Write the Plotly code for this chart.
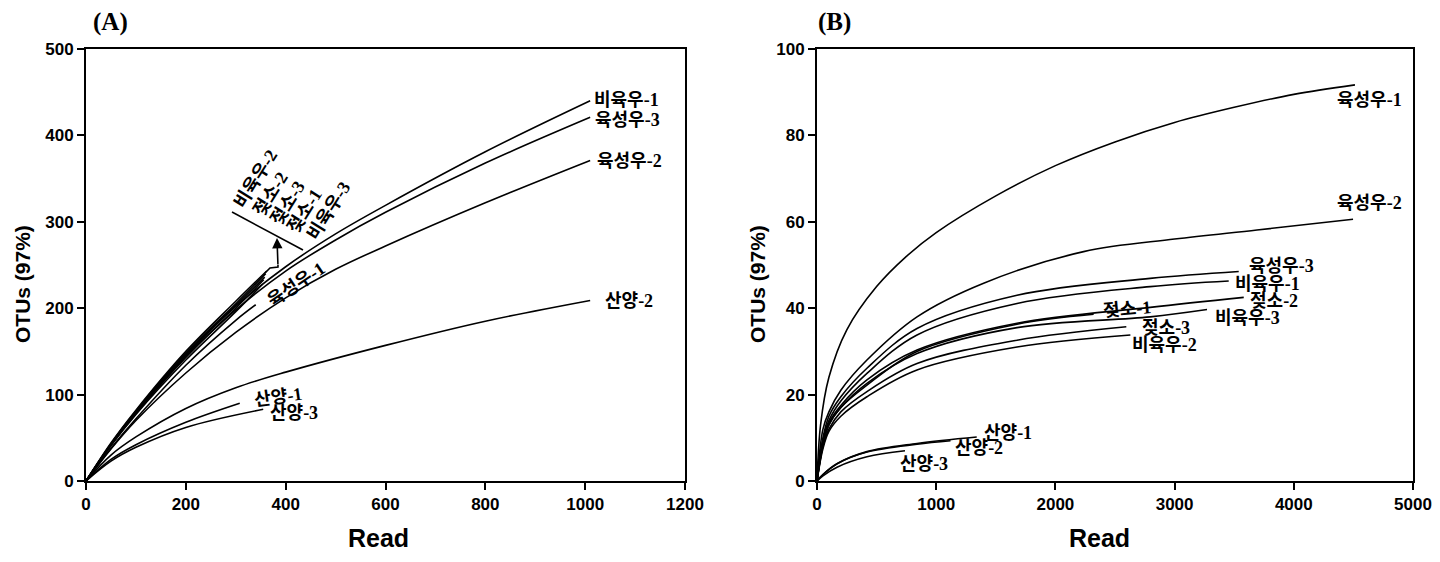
import plotly.graph_objects as go

# ---------------- Panel A data (Read vs OTUs) ----------------
A_LONG_X = [0, 50, 100, 200, 300, 400, 500, 600, 800, 1010]
A_BI1_Y = [0, 42, 80, 146, 202, 248, 286, 319, 381, 440]      # 비육우-1
A_YS3_Y = [0, 41, 78, 143, 198, 243, 279, 311, 368, 421]      # 육성우-3
A_YS2_Y = [0, 37, 70, 125, 172, 212, 245, 272, 322, 371]      # 육성우-2
A_YS1_X = [0, 50, 100, 200, 300, 340]
A_YS1_Y = [0, 38, 72, 134, 186, 204]                          # 육성우-1
A_BI2_X = [0, 50, 100, 200, 300, 362]
A_BI2_Y = [0, 44, 82, 150, 208, 243]                          # 비육우-2
A_JS2_X = [0, 50, 100, 200, 300, 360]
A_JS2_Y = [0, 43, 81, 148, 205, 240]                          # 젖소-2
A_JS3_X = [0, 50, 100, 200, 300, 358]
A_JS3_Y = [0, 43, 80, 146, 203, 236]                          # 젖소-3
A_JS1_X = [0, 50, 100, 200, 300, 356]
A_JS1_Y = [0, 42, 79, 144, 200, 233]                          # 젖소-1
A_BI3_X = [0, 50, 100, 200, 300, 354]
A_BI3_Y = [0, 41, 77, 140, 196, 228]                          # 비육우-3
A_SY2_X = [0, 50, 100, 200, 300, 400, 600, 800, 1010]
A_SY2_Y = [0, 30, 51, 84, 108, 126, 157, 185, 209]            # 산양-2
A_SY1_X = [0, 50, 100, 200, 308]
A_SY1_Y = [0, 25, 42, 68, 90]                                 # 산양-1
A_SY3_X = [0, 50, 100, 200, 355]
A_SY3_Y = [0, 23, 39, 62, 83]                                 # 산양-3

# ---------------- Panel B data ----------------
B_YS1_X = [0, 30, 100, 250, 500, 750, 1000, 1500, 2000, 2500, 3000, 3500, 4000, 4513]
B_YS1_Y = [0, 13, 24, 35, 45, 52, 57.5, 66, 73, 78.5, 83, 86.5, 89.5, 91.7]
B_YS2_X = [0, 50, 100, 200, 419, 839, 1398, 2237, 3000, 3691, 4497]
B_YS2_Y = [0, 12, 16, 21, 28, 38, 45.8, 53.1, 56, 58.1, 60.6]
B_YS3_X = [0, 50, 100, 200, 419, 839, 1678, 2795, 3538]
B_YS3_Y = [0, 10, 15, 19.5, 26.1, 35.3, 43, 46.9, 48.5]
B_BI1_X = [0, 50, 100, 200, 419, 839, 1678, 2795, 3454]
B_BI1_Y = [0, 9.5, 14, 18.5, 24.9, 33.8, 41.1, 45, 46.3]
B_JS2_X = [0, 50, 100, 200, 419, 839, 1678, 2795, 3580]
B_JS2_Y = [0, 9, 13.5, 17.5, 23.4, 30.3, 36.5, 40.2, 42.5]
B_BI3_X = [0, 50, 100, 200, 419, 839, 1678, 2795, 3272]
B_BI3_Y = [0, 8.5, 13, 17, 22.6, 29.5, 35.5, 38, 39.7]
B_JS1_X = [0, 50, 100, 200, 419, 839, 1678, 2321]
B_JS1_Y = [0, 8.5, 13, 17, 22.2, 30, 36.3, 38.6]
B_JS3_X = [0, 50, 100, 200, 419, 839, 1678, 2595]
B_JS3_Y = [0, 8, 12, 16, 20.7, 27.2, 32.6, 35.7]
B_BI2_X = [0, 50, 100, 200, 419, 839, 1678, 2629]
B_BI2_Y = [0, 7.5, 11.5, 15, 19.5, 25.7, 31, 33.8]
B_SY1_X = [0, 50, 168, 419, 839, 1340]
B_SY1_Y = [0, 1.5, 4.0, 6.8, 8.7, 10.2]
B_SY2_X = [0, 50, 168, 419, 839, 1120]
B_SY2_Y = [0, 1.5, 4.0, 6.7, 8.5, 9.3]
B_SY3_X = [0, 50, 168, 419, 738]
B_SY3_Y = [0, 1.2, 3.2, 5.6, 7.0]

A_XTICKS = [0, 200, 400, 600, 800, 1000, 1200]
A_YTICKS = [0, 100, 200, 300, 400, 500]
B_XTICKS = [0, 1000, 2000, 3000, 4000, 5000]
B_YTICKS = [0, 20, 40, 60, 80, 100]

KFONT = "Noto Sans CJK KR"
SFONT = "Liberation Serif"
TF = "Liberation Sans"
LSIZE = 18
W, H = 1440, 562
OFF = 8  # page body margin


def PX(x):
    return (x - OFF) / W


def PY(y):
    return (H - (y - OFF)) / H


def lab(name, num):
    return f"<b>{name}</b><span style='font-family:{SFONT}'><b>-{num}</b></span>"


fig = go.Figure()

a_series = [
    (A_LONG_X, A_BI1_Y), (A_LONG_X, A_YS3_Y), (A_LONG_X, A_YS2_Y),
    (A_YS1_X, A_YS1_Y), (A_BI2_X, A_BI2_Y), (A_JS2_X, A_JS2_Y),
    (A_JS3_X, A_JS3_Y), (A_JS1_X, A_JS1_Y), (A_BI3_X, A_BI3_Y),
    (A_SY2_X, A_SY2_Y), (A_SY1_X, A_SY1_Y), (A_SY3_X, A_SY3_Y),
]
for xs, ys in a_series:
    fig.add_trace(go.Scatter(x=xs, y=ys, mode="lines", xaxis="x", yaxis="y",
                             line=dict(color="black", width=1.6, shape="spline", smoothing=1.0),
                             showlegend=False, hoverinfo="skip"))

b_series = [
    (B_YS1_X, B_YS1_Y), (B_YS2_X, B_YS2_Y), (B_YS3_X, B_YS3_Y), (B_BI1_X, B_BI1_Y),
    (B_JS2_X, B_JS2_Y), (B_BI3_X, B_BI3_Y), (B_JS1_X, B_JS1_Y), (B_JS3_X, B_JS3_Y),
    (B_BI2_X, B_BI2_Y), (B_SY1_X, B_SY1_Y), (B_SY2_X, B_SY2_Y), (B_SY3_X, B_SY3_Y),
]
for xs, ys in b_series:
    fig.add_trace(go.Scatter(x=xs, y=ys, mode="lines", xaxis="x2", yaxis="y2",
                             line=dict(color="black", width=1.6, shape="spline", smoothing=1.0),
                             showlegend=False, hoverinfo="skip"))

ann = []
a_labels = [
    (lab("비육우", 1), 1014, 443, 0, "left"),
    (lab("육성우", 3), 1016, 420, 0, "left"),
    (lab("육성우", 2), 1020, 372.7, 0, "left"),
    (lab("산양", 2), 1036, 210.6, 0, "left"),
    (lab("산양", 1), 384.6, 99.5, -8, "center"),
    (lab("산양", 3), 416.7, 81, 0, "center"),
    (lab("육성우", 1), 418.7, 229, -34, "center"),
    (lab("비육우", 2), 336.6, 350.7, -58, "center"),
    (lab("젖소", 2), 366.6, 333.3, -58, "center"),
    (lab("젖소", 3), 400.7, 323, -58, "center"),
    (lab("젖소", 1), 434.7, 313.7, -58, "center"),
    (lab("비육우", 3), 482.8, 313.7, -58, "center"),
]
for t, x, y, ang, xa in a_labels:
    ann.append(dict(text=t, x=x, y=y, xref="x", yref="y", showarrow=False,
                    textangle=ang, xanchor=xa, yanchor="middle",
                    font=dict(family=KFONT, size=LSIZE, color="black")))

b_labels = [
    (lab("육성우", 1), 4346, 88.7, 0),
    (lab("육성우", 2), 4346, 64.8, 0),
    (lab("육성우", 3), 3607, 50.2, 0),
    (lab("비육우", 1), 3490, 46.1, 0),
    (lab("젖소", 2), 3616, 42.2, 0),
    (lab("비육우", 3), 3322, 38.2, 0),
    (lab("젖소", 1), 2374, 40.3, -5),
    (lab("젖소", 3), 2710, 35.9, 0),
    (lab("비육우", 2), 2626, 31.9, 0),
    (lab("산양", 1), 1384, 11.6, 0),
    (lab("산양", 2), 1141, 8.1, 0),
    (lab("산양", 3), 680, 4.4, 0),
]
for t, x, y, ang in b_labels:
    ann.append(dict(text=t, x=x, y=y, xref="x2", yref="y2", showarrow=False,
                    textangle=ang, xanchor="left", yanchor="middle",
                    font=dict(family=KFONT, size=LSIZE, color="black")))

# arrow in panel A pointing to the rotated label group
ann.append(dict(x=382.6, y=281.3, ax=384.6, ay=248.8, xref="x", yref="y",
                axref="x", ayref="y", showarrow=True, arrowhead=2, arrowsize=1.3,
                arrowwidth=1.6, arrowcolor="black", text=""))

paper_text = [
    ("<b>OTUs (97%)</b>", 22, 284, -90, TF, 21),
    ("<b>OTUs (97%)</b>", 757, 284, -90, TF, 21),
    ("<b>Read</b>", 379, 538, 0, TF, 25),
    ("<b>Read</b>", 1099, 538, 0, TF, 25),
    ("<b>(A)</b>", 110, 22, 0, SFONT, 25),
    ("<b>(B)</b>", 835, 22, 0, SFONT, 25),
]
for t, x, y, ang, fam, sz in paper_text:
    ann.append(dict(text=t, x=PX(x), y=PY(y), xref="paper", yref="paper",
                    xanchor="center", yanchor="middle", showarrow=False,
                    textangle=ang, font=dict(family=fam, size=sz, color="black")))

shapes = [
    dict(type="line", xref="x", yref="y", x0=292.5, y0=311.3, x1=434.7, y1=267.4,
         line=dict(color="black", width=1.6)),
    dict(type="path", xref="x", yref="y",
         path="M 358.6 240.7 L 368.6 246.5 L 384.6 247.7 L 384.6 250",
         line=dict(color="black", width=1.6)),
]

axis_common = dict(showline=True, linecolor="black", linewidth=2, mirror=True,
                   ticks="outside", ticklen=7, tickwidth=2, tickcolor="black",
                   showgrid=False, zeroline=False, automargin=False,
                   tickfont=dict(family=TF, size=17, color="black", weight="bold"))

fig.update_layout(
    width=W, height=H,
    margin=dict(l=0, r=0, t=0, b=0),
    paper_bgcolor="white", plot_bgcolor="white",
    xaxis=dict(domain=[PX(86), PX(685)], range=[0, 1200], tickvals=A_XTICKS,
               anchor="y", **axis_common),
    yaxis=dict(domain=[PY(481), PY(49)], range=[0, 500], tickvals=A_YTICKS,
               anchor="x", **axis_common),
    xaxis2=dict(domain=[PX(817), PX(1413)], range=[0, 5000], tickvals=B_XTICKS,
                anchor="y2", **axis_common),
    yaxis2=dict(domain=[PY(481), PY(49)], range=[0, 100], tickvals=B_YTICKS,
                anchor="x2", **axis_common),
    annotations=ann,
    shapes=shapes,
)

fig.write_html("out.html")
